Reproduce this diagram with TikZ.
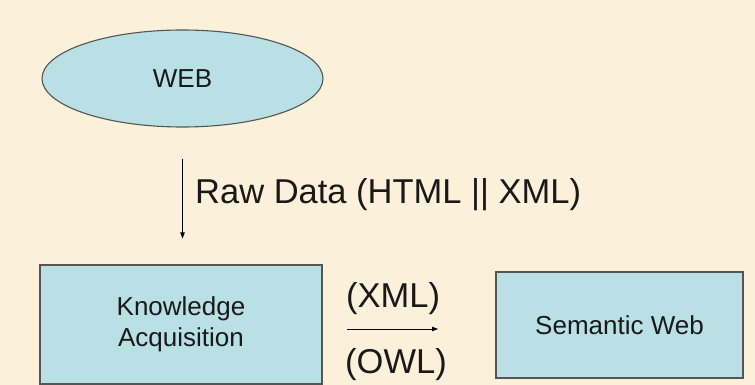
\documentclass[tikz,border=0pt]{standalone}
\usepackage{fontspec}
\setmainfont{Liberation Sans}
\usetikzlibrary{shapes.geometric,arrows.meta}
\definecolor{bgc}{RGB}{251,240,218}
\definecolor{boxfill}{RGB}{185,224,229}
\definecolor{boxline}{RGB}{85,85,85}
\tikzset{
  shapebox/.style={draw=boxline, line width=1.1pt, fill=boxfill, inner sep=0pt,
    font=\fontsize{26}{31.2}\selectfont, align=center, text=black!90},
  bigtext/.style={font=\fontsize{34.5}{40}\selectfont, inner sep=0pt, text=black!90},
  arr/.style={line width=0.8pt, -{Triangle[length=6pt,width=4.5pt]}}
}
\begin{document}
\begin{tikzpicture}[x=1pt,y=-1pt]
\fill[bgc] (0,0) rectangle (755,385);
\useasboundingbox (0,0) rectangle (755,385);
\node[shapebox, ellipse, minimum width=281pt, minimum height=97pt] (web) at (182.5,78.5) {WEB};
\node[shapebox, rectangle, minimum width=282pt, minimum height=119pt] (ka) at (181,324.5) {Knowledge\\Acquisition};
\node[shapebox, rectangle, minimum width=247pt, minimum height=106pt] (sw) at (619.5,325) {Semantic Web};
\draw[arr, shorten <=31pt, shorten >=26pt] (web.south) -- (web.south |- ka.north);
\node[bigtext, anchor=base west] (raw) at (195,203) {Raw Data (HTML || XML)};
\coordinate (h1) at (347,329);
\coordinate (h2) at (438,329);
\draw[arr] (h1) -- (h2);
\node[bigtext, anchor=base west] (xml) at (346,307) {(XML)};
\node[bigtext, anchor=base west] (owl) at (345,373) {(OWL)};
\end{tikzpicture}
\end{document}
